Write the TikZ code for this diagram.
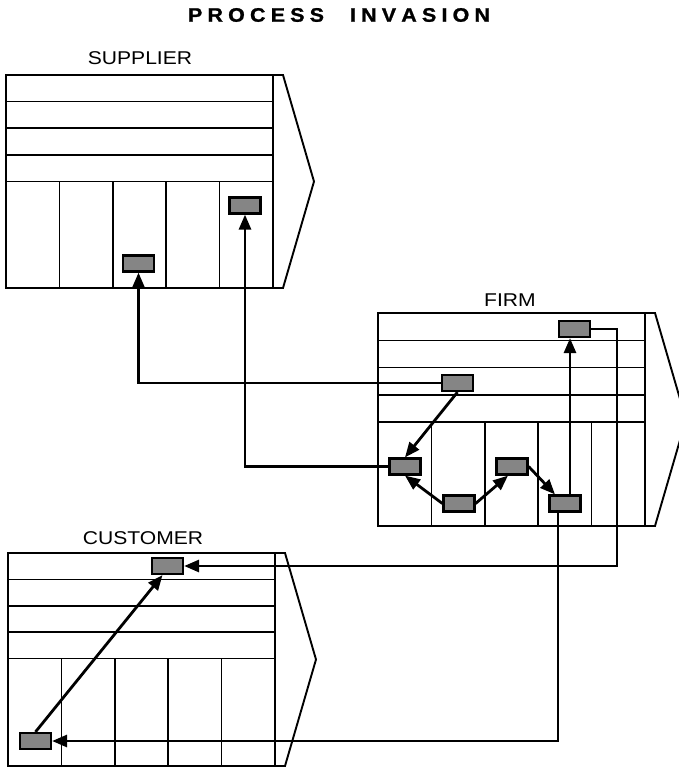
\documentclass[tikz,border=0pt]{standalone}
\usepackage{fontspec}
\setmainfont{Liberation Sans}
\newfontfamily\labfont{Liberation Sans}[FakeStretch=1.14]
\newfontfamily\titlefont{Liberation Sans Bold}[FakeBold=1.2, FakeStretch=1.1]
\usetikzlibrary{arrows.meta}
\tikzset{
  wall/.style={line width=1.9pt, line join=miter},
  cell/.style={line width=1.5pt},
  unit/.style={draw=black, line width=2.2pt, fill=black!48, minimum width=31pt, minimum height=16pt, inner sep=0pt},
  conn/.style={line width=2.8pt, -{Triangle[length=15pt,width=12pt]}},
  lab/.style={font=\labfont\fontsize{18.5}{20}\selectfont, inner sep=0pt},
}
\newcommand{\drawbuilding}[3]{%
  \begin{scope}[shift={(#1,#2)}]
    \draw[wall] (0,0) rectangle (267,213);
    \draw[wall] (267,0) -- (277,0) -- (308,106.5) -- (277,213) -- (267,213);
    \foreach \k in {1,...,4} \draw[cell] (0,\k*#3) -- (267,\k*#3);
    \foreach \c in {1,...,4} \draw[cell] (\c*53.4,4*#3) -- (\c*53.4,213);
  \end{scope}}
\begin{document}
\begin{tikzpicture}[x=1pt,y=-1pt]
\useasboundingbox (0,0) rectangle (679,768);
\clip (0,0) rectangle (679,768);
\fill[white] (0,0) rectangle (679,768);

\node[inner sep=0pt, font=\titlefont\fontsize{19.5}{20}\selectfont] (title) at (339,15)
  {\makebox[302pt][s]{P\hfill R\hfill O\hfill C\hfill E\hfill S\hfill S\hspace{0pt plus 5fill}I\hfill N\hfill V\hfill A\hfill S\hfill I\hfill O\hfill N}};

\node[lab] (supl) at (140,58) {SUPPLIER};
\node[lab] (firml) at (510,300) {FIRM};
\node[lab] (custl) at (143,538) {CUSTOMER};

\drawbuilding{6}{75}{26.6}
\drawbuilding{378}{313}{27.3}
\drawbuilding{8}{553}{26.4}

% supplier units
\node[unit] (s1) at (138.5,263.5) {};
\node[unit] (s2) at (245,205.5) {};
% firm units
\node[unit] (ft) at (574.5,329) {};
\node[unit] (fa) at (457.5,383) {};
\node[unit] (fb) at (405,466.5) {};
\node[unit] (fc) at (459,503.5) {};
\node[unit] (fd) at (512,466.5) {};
\node[unit] (fe) at (565,503.5) {};
% customer units
\node[unit] (ct) at (167.5,566) {};
\node[unit] (cb) at (35.5,741) {};

\coordinate (c1) at (617,450);

\draw[conn] (fa.west) -| (s1.south);
\draw[conn] (fb.west) -| (s2.south);
\draw[conn] (fa.south) -- (fb.north);
\draw[conn] (fc.west) -- (fb.south);
\draw[conn] (fc.east) -- ([xshift=-4pt]fd.south);
\draw[conn] (fd.east) -- ([xshift=-10pt]fe.north);
\draw[conn] ([xshift=5pt]fe.north) -- ([xshift=5pt]fe.north |- ft.south);
\draw[conn] (ft.east) -| (c1) |- (ct.east);
\draw[conn] ([xshift=-7pt]fe.south) |- (cb.east);
\draw[conn] (cb.north) -- ([xshift=-5pt]ct.south);
\end{tikzpicture}
\end{document}
